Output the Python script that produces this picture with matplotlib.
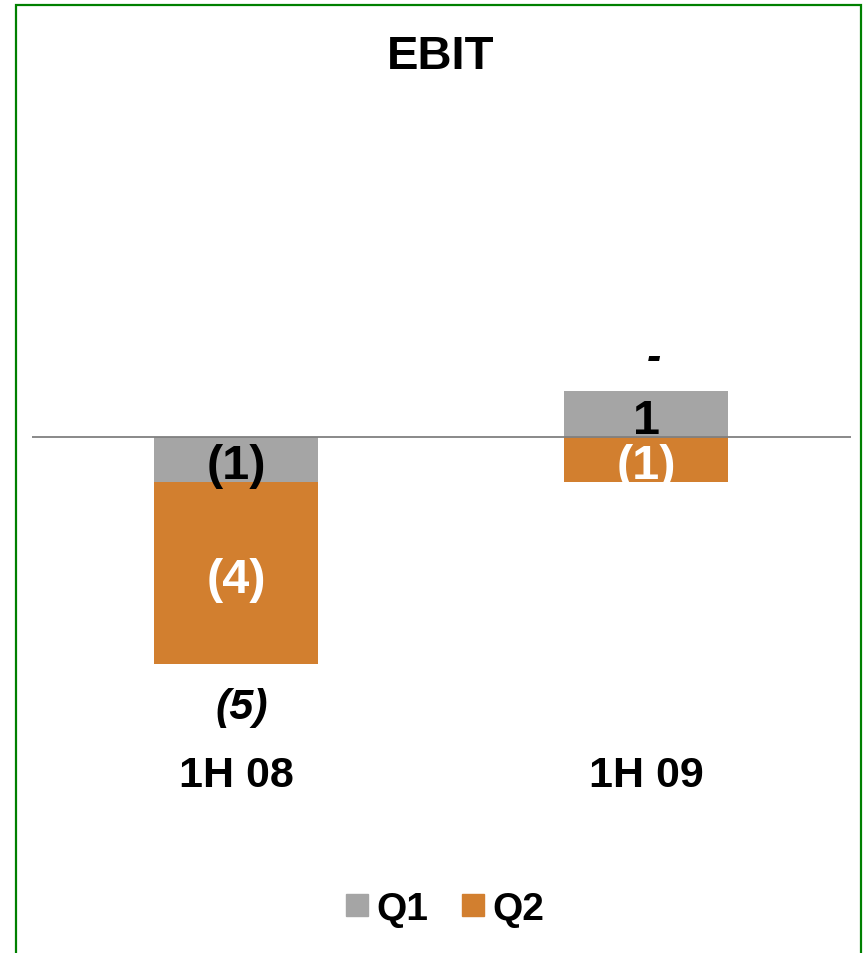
import matplotlib.pyplot as plt
from matplotlib.lines import Line2D
from matplotlib.patches import Rectangle
import numpy as np

plt.rcParams['font.family'] = ['Liberation Sans', 'DejaVu Sans']

periods = ['1H 08', '1H 09']
q1 = [-1, 1]
q2 = [-4, -1]
totals = [-5, 0]

GRAY = '#A5A5A5'
ORANGE = '#D27F2F'


def fmt(v):
    if v == 0:
        return '-'
    if v < 0:
        return f'({abs(v)})'
    return f'{v}'


W, H = 868, 954
fig = plt.figure(figsize=(W / 100, H / 100), dpi=100)

# axes placed so the zero line sits at y=437 px
ax_left, ax_right = 32, 851
ax_top, ax_bot = 120, 820
zero_px = 437.5
ax = fig.add_axes([ax_left / W, 1 - ax_bot / H, (ax_right - ax_left) / W, (ax_bot - ax_top) / H])
unit = 45.4
ax.set_ylim(-(ax_bot - zero_px) / unit, (zero_px - ax_top) / unit)
ax.set_xlim(-(236 - ax_left) / 410, 1 + (ax_right - 646) / 410)
ax.axis('off')

x = np.arange(len(periods))
width = 0.4

# stack positives up and negatives down from zero
pos_base = np.zeros(len(x))
neg_base = np.zeros(len(x))
for vals, color, txt_color in [(q1, GRAY, 'black'), (q2, ORANGE, 'white')]:
    vals = np.array(vals, dtype=float)
    bottoms = np.where(vals >= 0, pos_base, neg_base)
    ax.bar(x, vals, width, bottom=bottoms, color=color, zorder=2)
    for xi, v, b in zip(x, vals, bottoms):
        ax.text(xi, b + v / 2 - 0.14, fmt(int(v)), ha='center', va='center',
                fontsize=35, fontweight='bold', color=txt_color, zorder=4)
    pos_base = np.where(vals >= 0, pos_base + vals, pos_base)
    neg_base = np.where(vals < 0, neg_base + vals, neg_base)

ax.axhline(0, color='#808080', lw=1.3, zorder=3)

# totals: below the stack when negative, above it otherwise
for xi, t, pb, nb in zip(x, totals, pos_base, neg_base):
    if t < 0:
        ax.text(xi + 0.015, nb - 0.95, fmt(t), ha='center', va='center', fontsize=31,
                fontweight='bold', style='italic')
    else:
        ax.text(xi + 0.02, pb + 0.72, fmt(t), ha='center', va='center', fontsize=31,
                fontweight='bold', style='italic')

for xi, p in zip(x, periods):
    ax.text(xi, -(776 - zero_px) / unit, p, ha='center', va='center', fontsize=31,
            fontweight='bold')

fig.text(441 / W, 1 - 57 / H, 'EBIT', ha='center', va='center', fontsize=34,
         fontweight='bold')

handles = [Line2D([], [], marker='s', ls='', markersize=16, color=GRAY),
           Line2D([], [], marker='s', ls='', markersize=16, color=ORANGE)]
fig.legend(handles, ['Q1', 'Q2'], loc='center', bbox_to_anchor=(446 / W, 1 - 910 / H),
           ncol=2, frameon=False, prop={'size': 28, 'weight': 'bold'},
           handlelength=0.5, handletextpad=0.25, columnspacing=0.9)

fig.patches.append(Rectangle((16 / W, -0.01), (861 - 16) / W, 1 - 6 / H + 0.01,
                             transform=fig.transFigure, fill=False,
                             edgecolor='#008000', lw=1.6))

fig.savefig('out.png', dpi=100, facecolor='white')
